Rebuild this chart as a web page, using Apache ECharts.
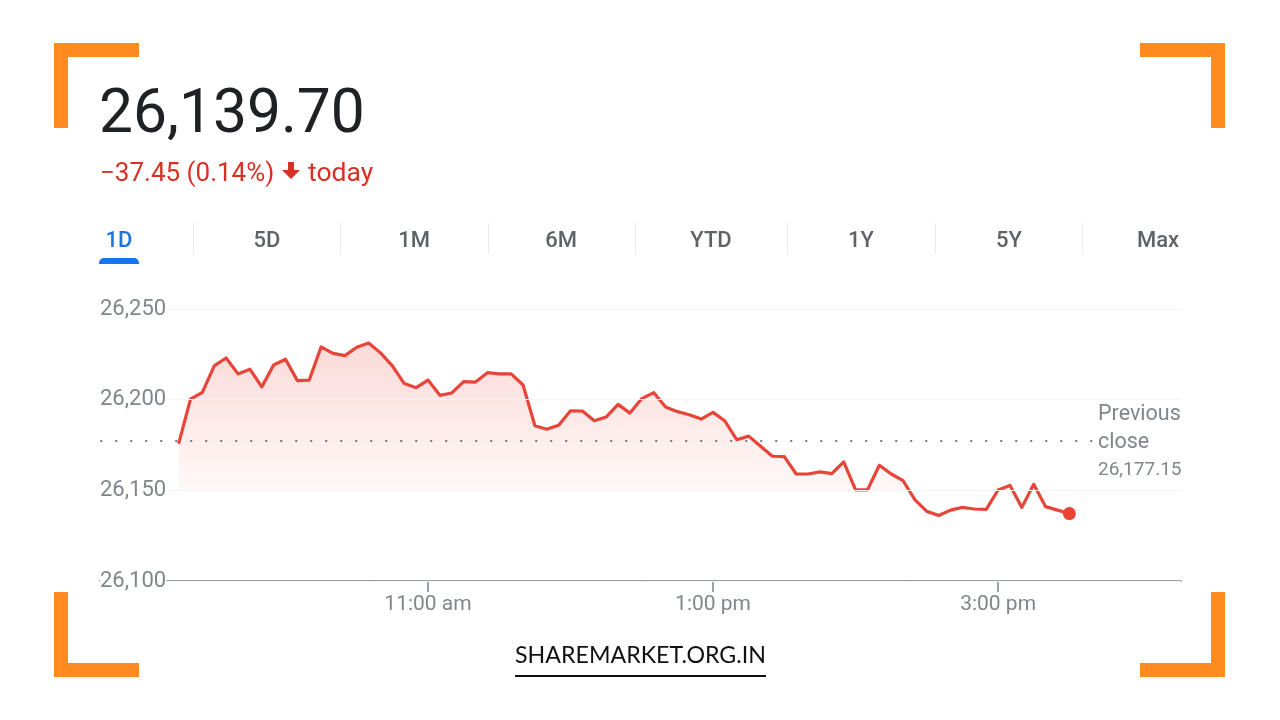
<!DOCTYPE html>
<html lang="en" style="height: 100%">
<head>
    <meta charset="UTF-8">
    <title>26,139.70 1D</title>
    <script src="https://cdn.jsdelivr.net/npm/echarts@6/dist/echarts.min.js"></script>
</head>
<body style="height: 100%; margin: 0; background: #fff">
<div id="main" style="width: 1280px; height: 720px"></div>
<script>
    // minutes since midnight, one reading every 5 min from 9:15 to 3:30
    var times = [555, 560, 565, 570, 575, 580, 585, 590, 595, 600, 605, 610, 615, 620, 625, 630, 635, 640, 645,
        650, 655, 660, 665, 670, 675, 680, 685, 690, 695, 700, 705, 710, 715, 720, 725, 730, 735, 740, 745,
        750, 755, 760, 765, 770, 775, 780, 785, 790, 795, 800, 805, 810, 815, 820, 825, 830, 835, 840, 845,
        850, 855, 860, 865, 870, 875, 880, 885, 890, 895, 900, 905, 910, 915, 920, 925, 930];
    var prices = [26175.7, 26200.3, 26204, 26218.6, 26223, 26214.2, 26216.8, 26207, 26219.1, 26222.3, 26210.5, 26210.8,
        26229.1, 26225.5, 26224.3, 26228.9, 26231.2, 26225.8, 26218.6, 26208.9, 26206.6, 26210.8, 26202.4, 26203.7,
        26210, 26209.7, 26214.9, 26214.2, 26214.2, 26208.1, 26185.6, 26183.7, 26185.9, 26193.9, 26193.7, 26188.4,
        26190.4, 26197.4, 26192.6, 26200.6, 26203.9, 26195.9, 26193.4, 26191.7, 26189.3, 26193, 26188.2, 26177.9,
        26179.9, 26174.3, 26168.8, 26168.6, 26159, 26159, 26160.2, 26159.2, 26165.7, 26150.2, 26150.2, 26163.8,
        26159, 26155.3, 26144.7, 26138.4, 26136.1, 26139.1, 26140.6, 26139.7, 26139.5, 26150.2, 26152.7, 26140.6,
        26153.3, 26141, 26139.1, 26137.2];
    var previousClose = 26177.15;
    var closeLineTimes = [522, 940];
    var tickTimes = [660, 780, 900];
    var tickLabels = ['11:00 am', '1:00 pm', '3:00 pm'];
    var tabs = ['1D', '5D', '1M', '6M', 'YTD', '1Y', '5Y', 'Max'];
    var tabCenters = [119, 267, 414, 561, 711, 861, 1009, 1158];
    var tabSeparators = [193, 340, 488, 635, 787, 935, 1082];

    var orange = '#ff8a1f';
    var font = 'Roboto';
    var graphics = [];

    function bar(x, y, w, h, fill) {
        graphics.push({type: 'rect', silent: true, z: 20, shape: {x: x, y: y, width: w, height: h}, style: {fill: fill}});
    }
    function text(x, y, str, size, fill, align, weight, family) {
        graphics.push({type: 'text', silent: true, z: 20, x: x, y: y, style: {
            text: str, fontSize: size, fill: fill, align: align || 'left', verticalAlign: 'middle',
            fontWeight: weight || 400, fontFamily: family || font
        }});
    }

    // corner brackets
    bar(54, 43, 85, 14, orange); bar(54, 43, 14, 85, orange);
    bar(1140, 43, 85, 14, orange); bar(1211, 43, 14, 85, orange);
    bar(54, 663, 85, 14, orange); bar(54, 592, 14, 85, orange);
    bar(1140, 663, 85, 14, orange); bar(1211, 592, 14, 85, orange);

    text(99, 117, '26,139.70', 60.5, '#202124');
    text(100, 174, '\u221237.45 (0.14%)', 26, '#d93025');
    text(308, 174, 'today', 26.5, '#d93025');
    graphics.push({type: 'polygon', silent: true, z: 20,
        shape: {points: [[288, 162], [294, 162], [294, 170], [300, 170], [291, 179], [282, 170], [288, 170]]},
        style: {fill: '#d93025'}});

    tabs.forEach(function (t, i) {
        text(tabCenters[i], 241, t, 22, i === 0 ? '#1a73e8' : '#5f6368', 'center', 500);
    });
    tabSeparators.forEach(function (x) { bar(x, 223, 1, 31, '#e8eaed'); });
    graphics.push({type: 'rect', silent: true, z: 20, shape: {x: 99, y: 258, width: 40, height: 6, r: [5, 5, 0, 0]}, style: {fill: '#1a73e8'}});

    text(1098, 415, 'Previous', 21.5, '#80868b');
    text(1098, 443, 'close', 21.5, '#80868b');
    text(1098, 470, '26,177.15', 19, '#80868b');

    text(640.5, 656, 'SHAREMARKET.ORG.IN', 23.2, '#111111', 'center', 400, 'Lato');
    bar(515, 675, 251, 2, '#111111');

    var option = {
        backgroundColor: '#ffffff',
        animation: false,
        grid: {left: 100, right: 99, top: 309, bottom: 139},
        xAxis: {
            type: 'value',
            min: 521.9,
            max: 977,
            splitLine: {show: false},
            axisLine: {lineStyle: {color: '#9aa0a6', width: 2}},
            axisTick: {show: true, customValues: tickTimes, length: 11, lineStyle: {color: '#9aa0a6', width: 2}},
            axisLabel: {
                customValues: tickTimes,
                margin: 13,
                fontFamily: font,
                fontSize: 21,
                color: '#80868b',
                formatter: function (v) { return tickLabels[tickTimes.indexOf(v)]; }
            }
        },
        yAxis: {
            type: 'value',
            min: 26100,
            max: 26250,
            interval: 50,
            z: 5,
            axisLine: {show: false},
            axisTick: {show: false},
            splitLine: {lineStyle: {color: '#f3f4f5', width: 1}},
            axisLabel: {
                inside: true,
                margin: 0,
                fontFamily: font,
                fontSize: 22,
                color: '#80868b',
                backgroundColor: '#ffffff',
                padding: [6, 0, 0, 0],
                formatter: function (v) { return v.toLocaleString('en-US'); }
            }
        },
        graphic: graphics,
        series: [
            {
                name: 'Previous close',
                type: 'line',
                symbol: 'none',
                silent: true,
                z: 3,
                data: closeLineTimes.map(function (t) { return [t, previousClose]; }),
                lineStyle: {color: '#757a80', width: 2, type: [2, 13]}
            },
            {
                name: 'Price',
                type: 'line',
                symbol: 'none',
                z: 2,
                data: times.map(function (t, i) { return [t, prices[i]]; }),
                lineStyle: {color: '#e8453a', width: 3.2, join: 'round'},
                areaStyle: {
                    origin: 26150,
                    color: new echarts.graphic.LinearGradient(0, 343, 0, 520, [
                        {offset: 0, color: 'rgba(234,67,53,0.28)'},
                        {offset: 0.835, color: 'rgba(234,67,53,0.05)'},
                        {offset: 0.84, color: 'rgba(234,67,53,0)'},
                        {offset: 1, color: 'rgba(234,67,53,0)'}
                    ], true)
                }
            },
            {
                name: 'Last',
                type: 'scatter',
                symbolSize: 13,
                z: 4,
                itemStyle: {color: '#ea4335', opacity: 1},
                data: [[times[times.length - 1], prices[prices.length - 1]]]
            }
        ]
    };

    var myChart = echarts.init(document.getElementById('main'));
    myChart.setOption(option);
</script>
</body>
</html>
